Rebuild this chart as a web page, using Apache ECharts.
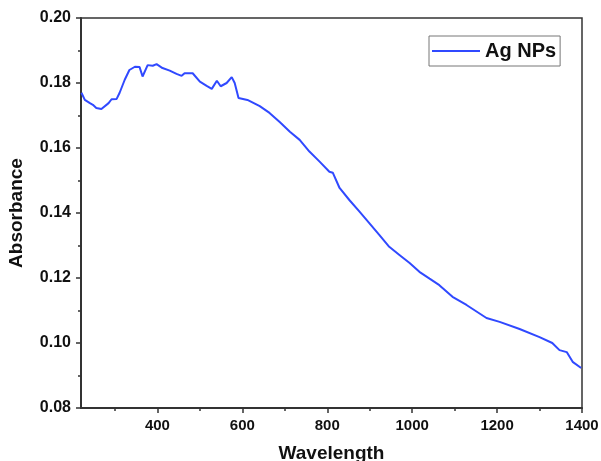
<!DOCTYPE html>
<html>
<head>
<meta charset="utf-8">
<script src="https://cdn.jsdelivr.net/npm/echarts@6/dist/echarts.min.js"></script>
<style>
  html, body { margin: 0; padding: 0; background: #fff; }
  #chart { width: 601px; height: 461px; }
</style>
</head>
<body>
<div id="chart"></div>
<script>
// values
const wavelength = [
  221, 229, 241, 248, 256, 268, 285, 292, 304, 311, 323, 334, 347, 358, 365, 377, 389, 398,
  412, 429, 445, 457, 464, 483, 500, 516, 528, 540, 549, 563, 575, 582, 591, 612, 641, 664,
  688, 712, 735, 758, 782, 805, 813, 829, 852, 876, 899, 923, 946, 970, 994, 1017, 1041, 1064,
  1095, 1128, 1175, 1206, 1253, 1300, 1330, 1347, 1364, 1378, 1398,
]
const absorbance = [
  0.1770, 0.1748, 0.1738, 0.1733, 0.1723, 0.1720, 0.1738, 0.1750, 0.1751, 0.1770, 0.1810, 0.1840,
  0.1850, 0.1849, 0.1820, 0.1855, 0.1853, 0.1858, 0.1846, 0.1838, 0.1828, 0.1822, 0.1830, 0.1830,
  0.1804, 0.1791, 0.1782, 0.1807, 0.1790, 0.1800, 0.1818, 0.1800, 0.1754, 0.1748, 0.1729, 0.1708,
  0.1680, 0.1650, 0.1625, 0.1589, 0.1558, 0.1527, 0.1524, 0.1477, 0.1440, 0.1404, 0.1369, 0.1332,
  0.1296, 0.1271, 0.1246, 0.1219, 0.1198, 0.1178, 0.1142, 0.1117, 0.1077, 0.1065, 0.1043, 0.1018,
  0.1000, 0.0978, 0.0972, 0.0942, 0.0923,
]
const xMajorTicks = [400, 600, 800, 1000, 1200, 1400]
const xMinorTicks = [300, 500, 700, 900, 1100, 1300]
const seriesName = 'Ag NPs'

const font = '"Liberation Sans", Arial, sans-serif'
const ink = '#111'
const lineColor = '#3049ff'

const chart = echarts.init(document.getElementById('chart'))

const xRange = { min: 220, max: 1400 }

chart.setOption({
  animation: false,
  textStyle: { fontFamily: font },
  grid: {
    left: 81, right: 19, top: 18, bottom: 53,
    outerBoundsMode: 'none',
    show: true, borderColor: '#333', borderWidth: 1.5,
  },
  legend: {
    data: [{ name: seriesName, icon: 'rect' }],
    left: 429, top: 36,
    itemWidth: 48, itemHeight: 2,
    padding: [5, 4, 5, 3],
    borderColor: '#777', borderWidth: 1,
    textStyle: { fontFamily: font, fontWeight: 'bold', fontSize: 20, color: ink },
  },
  xAxis: [
    {
      type: 'value',
      ...xRange,
      name: 'Wavelength',
      nameLocation: 'middle',
      nameGap: 36,
      nameTextStyle: { fontFamily: font, fontWeight: 'bold', fontSize: 19, color: ink },
      axisLine: { lineStyle: { color: '#333', width: 2 } },
      axisTick: { show: true, customValues: xMajorTicks, length: 5, lineStyle: { color: '#333', width: 1.5 } },
      axisLabel: {
        customValues: xMajorTicks, margin: 10,
        formatter: v => String(v),
        fontFamily: font, fontWeight: 'bold', fontSize: 15, color: ink,
      },
      splitLine: { show: false },
    },
    {
      type: 'value',
      ...xRange,
      position: 'bottom',
      axisLine: { show: false },
      axisTick: { show: true, customValues: xMinorTicks, length: 3, lineStyle: { color: '#333', width: 1.5 } },
      axisLabel: { show: false },
      splitLine: { show: false },
    },
  ],
  yAxis: {
    type: 'value',
    min: 0.08, max: 0.20, interval: 0.02,
    name: 'Absorbance',
    nameLocation: 'middle',
    nameGap: 55,
    nameTextStyle: { fontFamily: font, fontWeight: 'bold', fontSize: 19, color: ink },
    axisLine: { show: true, lineStyle: { color: '#333', width: 2 } },
    axisTick: { show: true, length: 5, lineStyle: { color: '#333', width: 1.5 } },
    minorTick: { show: true, splitNumber: 2, length: 3, lineStyle: { color: '#333', width: 1.5 } },
    axisLabel: {
      margin: 10,
      formatter: v => v.toFixed(2),
      fontFamily: font, fontWeight: 'bold', fontSize: 16, color: ink,
    },
    splitLine: { show: false },
  },
  series: [
    {
      name: seriesName,
      type: 'line',
      data: wavelength.map((w, i) => [w, absorbance[i]]),
      symbol: 'none',
      lineStyle: { color: lineColor, width: 2 },
      itemStyle: { color: lineColor },
    },
  ],
})
</script>
</body>
</html>
